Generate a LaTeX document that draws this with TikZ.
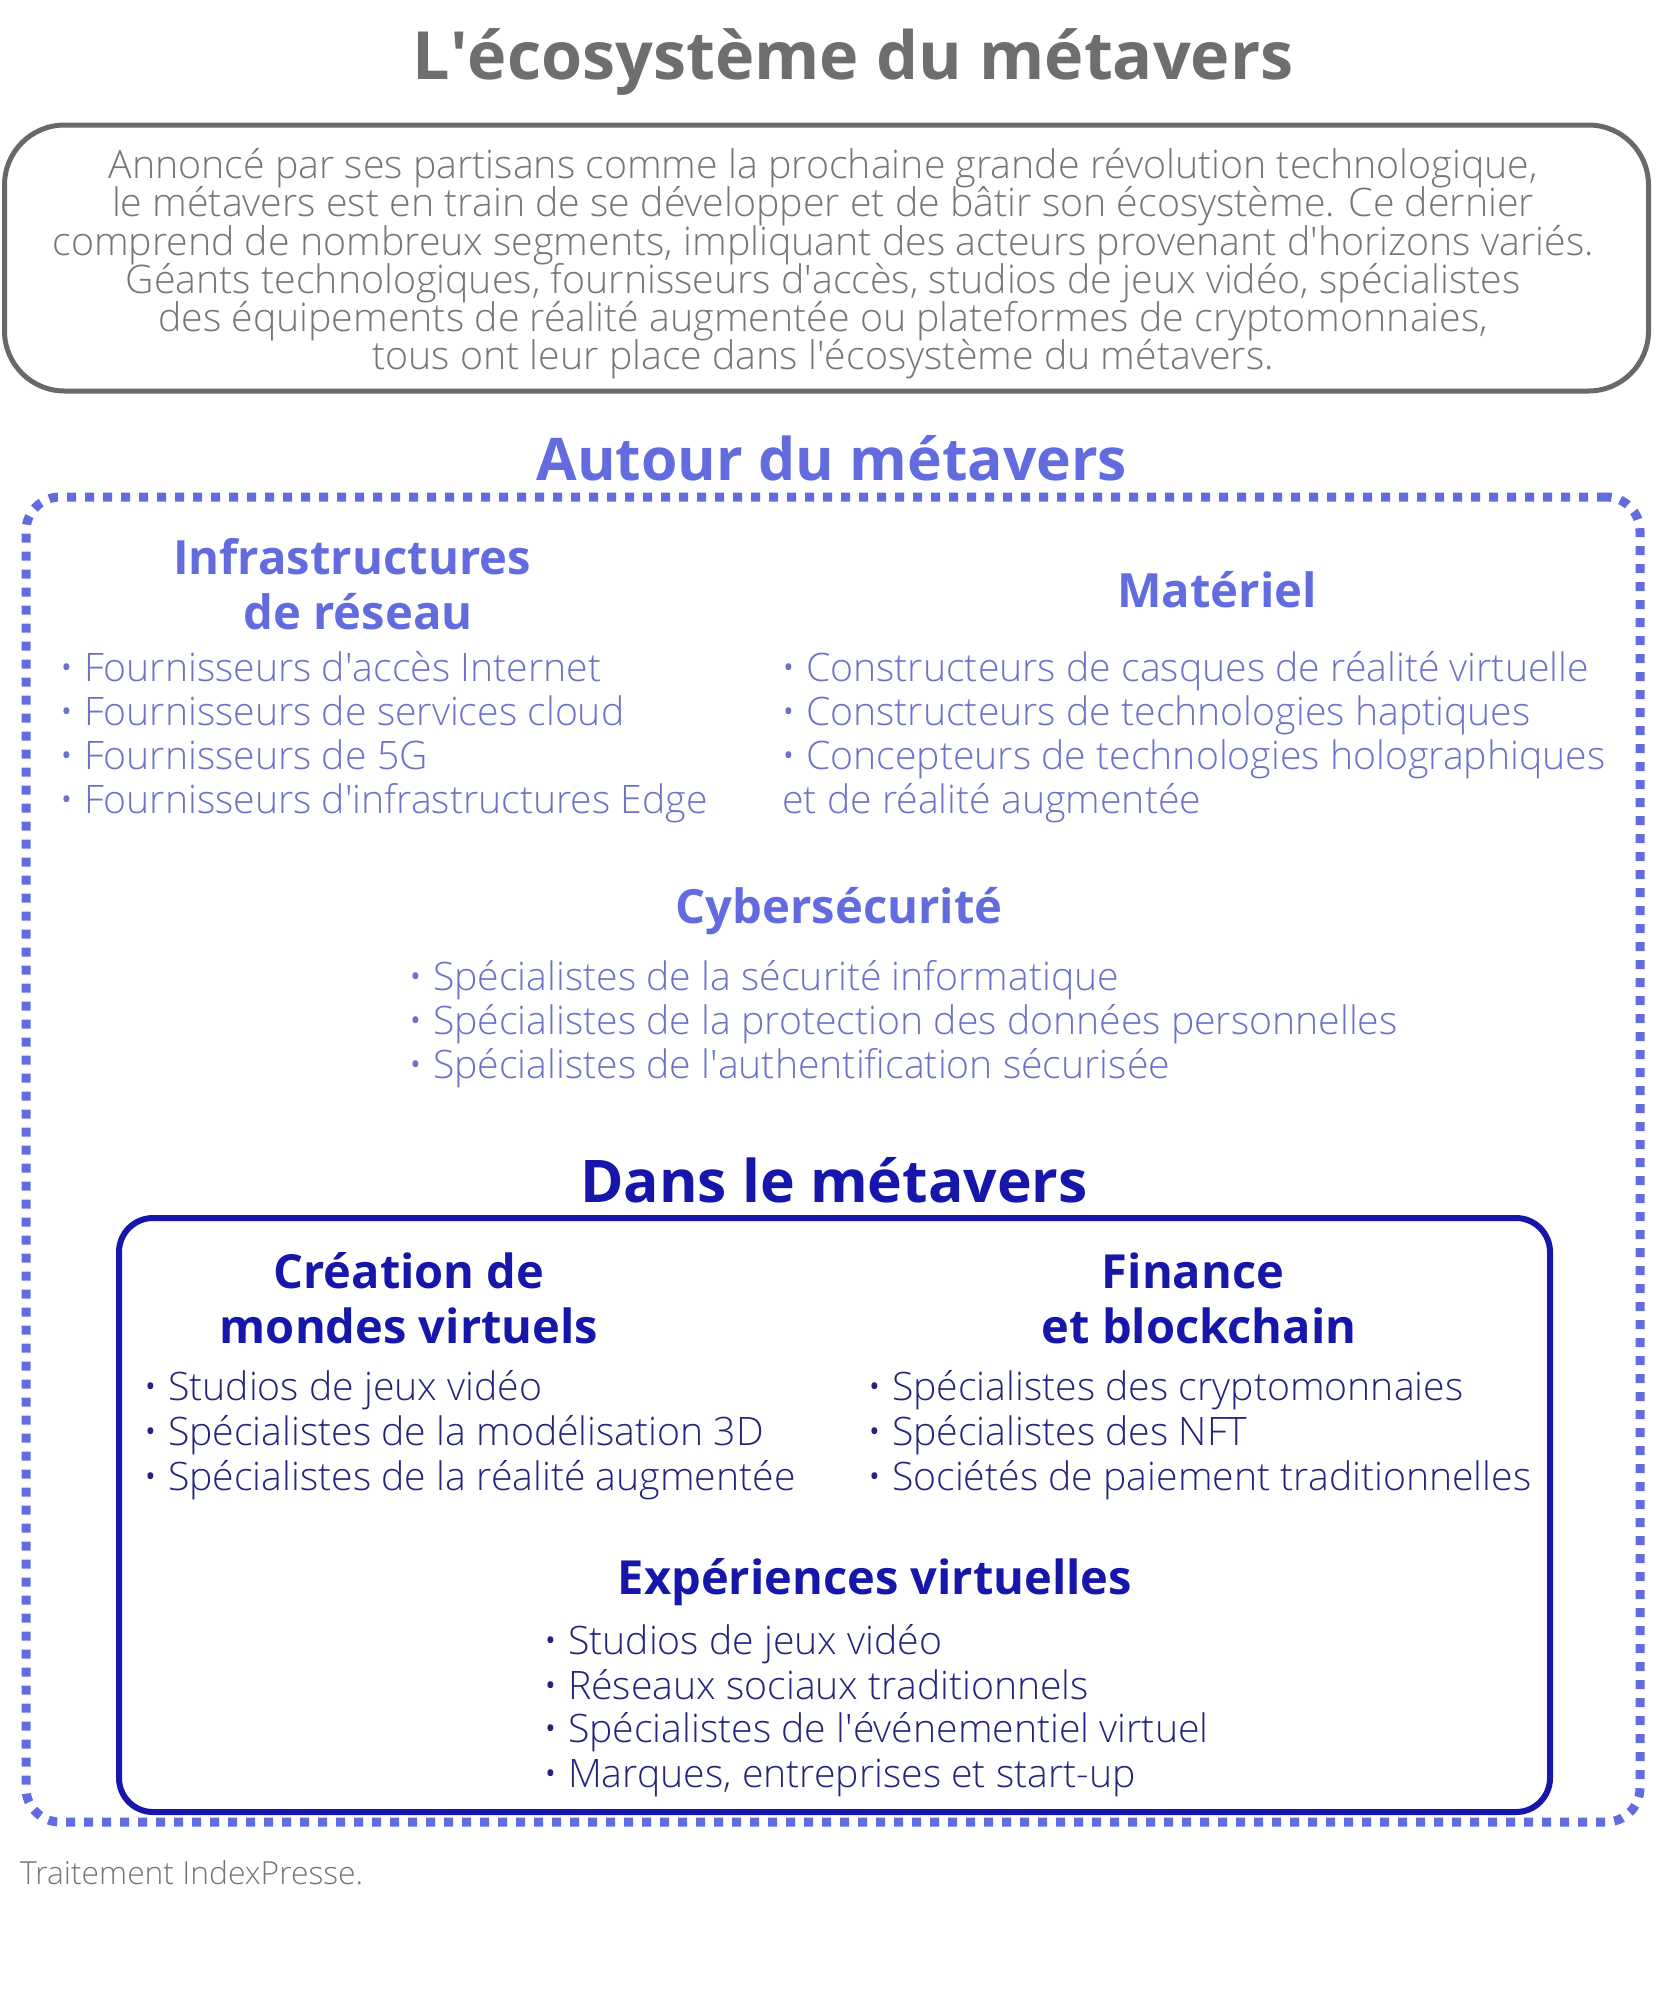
\documentclass[tikz,border=0pt]{standalone}
\usepackage{fontspec}
\setmainfont{Open Sans}
\newfontfamily\lt{Open Sans Light}
\definecolor{tgray}{RGB}{110,110,110}
\definecolor{pgray}{RGB}{118,118,118}
\definecolor{bgray}{RGB}{105,105,105}
\definecolor{lblue}{RGB}{98,108,222}
\definecolor{ltext}{RGB}{108,114,200}
\definecolor{dblue}{RGB}{22,22,170}
\definecolor{dtext}{RGB}{36,36,125}
\newcommand{\q}{\textquotesingle}
\tikzset{
  ttl/.style={font=\bfseries\fontsize{66.5}{72}\selectfont, text=tgray, anchor=base, inner sep=0pt},
  para/.style={font=\lt\fontsize{39.3}{40}\selectfont, text=pgray, anchor=base, inner sep=0pt},
  hA/.style={font=\bfseries\fontsize{58.8}{62}\selectfont, text=lblue, anchor=base, inner sep=0pt},
  hB/.style={font=\bfseries\fontsize{58.8}{62}\selectfont, text=dblue, anchor=base, inner sep=0pt},
  sA/.style={font=\bfseries\fontsize{47.2}{52}\selectfont, text=lblue, anchor=base, inner sep=0pt},
  sB/.style={font=\bfseries\fontsize{47}{52}\selectfont, text=dblue, anchor=base, inner sep=0pt},
  bA/.style={font=\lt\fontsize{39.2}{44}\selectfont, text=ltext, anchor=base west, inner sep=0pt},
  bB/.style={font=\lt\fontsize{39.2}{44}\selectfont, text=dtext, anchor=base west, inner sep=0pt},
  foot/.style={font=\lt\fontsize{31.8}{34}\selectfont, text=pgray, anchor=base west, inner sep=0pt},
}
\begin{document}
\begin{tikzpicture}[x=1pt,y=-1pt]
\useasboundingbox[fill=white] (0,0) rectangle (1667,2000);
% title
\node[ttl] (title) at (853,79) {L\q écosystème du métavers};
% intro box
\node[draw=bgray, line width=5pt, rounded corners=60pt, minimum width=1644pt, minimum height=266pt, inner sep=0pt] (intro) at (826.5,258) {};
\node[para] (p1) at (823,178) {Annoncé par ses partisans comme la prochaine grande révolution technologique,};
\node[para] (p2) at (823,216) {le métavers est en train de se développer et de bâtir son écosystème. Ce dernier};
\node[para] (p3) at (823,255) {comprend de nombreux segments, impliquant des acteurs provenant d\q horizons variés.};
\node[para] (p4) at (823,293) {Géants technologiques, fournisseurs d\q accès, studios de jeux vidéo, spécialistes};
\node[para] (p5) at (823,331) {des équipements de réalité augmentée ou plateformes de cryptomonnaies,};
\node[para] (p6) at (823,369) {tous ont leur place dans l\q écosystème du métavers.};
% Autour du metavers
\node[hA] (autourT) at (832,480) {Autour du métavers};
\node[draw=lblue, line width=9pt, dash pattern=on 9pt off 9pt, rounded corners=34pt, minimum width=1614pt, minimum height=1325pt, inner sep=0pt] (autour) at (833,1159.5) {};
% Infrastructures
\node[sA] (infT1) at (352,574) {Infrastructures};
\node[sA] (infT2) at (358,629) {de réseau};
\node[bA] (inf1) at (59,681) {• Fournisseurs d\q accès Internet};
\node[bA] (inf2) at (59,725) {• Fournisseurs de services cloud};
\node[bA] (inf3) at (59,769) {• Fournisseurs de 5G};
\node[bA] (inf4) at (59,813) {• Fournisseurs d\q infrastructures Edge};
% Materiel
\node[sA] (matT) at (1217,607) {Matériel};
\node[bA] (mat1) at (781,681) {• Constructeurs de casques de réalité virtuelle};
\node[bA] (mat2) at (781,725) {• Constructeurs de technologies haptiques};
\node[bA] (mat3) at (781,769) {• Concepteurs de technologies holographiques};
\node[bA] (mat4) at (782,813) {et de réalité augmentée};
% Cyber
\node[sA] (cybT) at (839,923) {Cybersécurité};
\node[bA] (cyb1) at (408,990) {• Spécialistes de la sécurité informatique};
\node[bA] (cyb2) at (408,1034) {• Spécialistes de la protection des données personnelles};
\node[bA] (cyb3) at (408,1078) {• Spécialistes de l\q authentification sécurisée};
% Dans le metavers
\node[hB] (dansT) at (834,1202) {Dans le métavers};
\node[draw=dblue, line width=6pt, rounded corners=34pt, minimum width=1431pt, minimum height=594pt, inner sep=0pt] (dans) at (834.5,1515) {};
% Creation
\node[sB] (creT1) at (409,1288) {Création de};
\node[sB] (creT2) at (409,1343) {mondes virtuels};
\node[bB] (cre1) at (143,1400) {• Studios de jeux vidéo};
\node[bB] (cre2) at (143,1445) {• Spécialistes de la modélisation 3D};
\node[bB] (cre3) at (143,1490) {• Spécialistes de la réalité augmentée};
% Finance
\node[sB] (finT1) at (1193,1288) {Finance};
\node[sB] (finT2) at (1199,1343) {et blockchain};
\node[bB] (fin1) at (867,1400) {• Spécialistes des cryptomonnaies};
\node[bB] (fin2) at (867,1445) {• Spécialistes des NFT};
\node[bB] (fin3) at (867,1490) {• Sociétés de paiement traditionnelles};
% Experiences
\node[sB] (expT) at (875,1594) {Expériences virtuelles};
\node[bB] (exp1) at (543,1654) {• Studios de jeux vidéo};
\node[bB] (exp2) at (543,1699) {• Réseaux sociaux traditionnels};
\node[bB] (exp3) at (543,1742) {• Spécialistes de l\q événementiel virtuel};
\node[bB] (exp4) at (543,1787) {• Marques, entreprises et start-up};
% footer
\node[foot] (foot) at (20,1884) {Traitement IndexPresse.};
\end{tikzpicture}
\end{document}
